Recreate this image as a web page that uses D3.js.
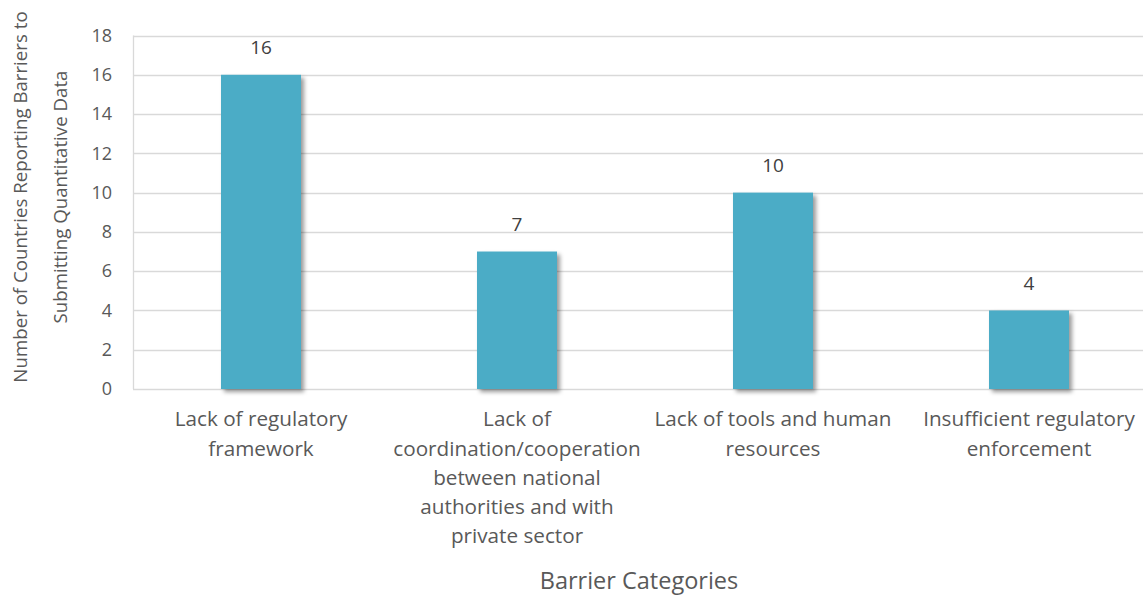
<!DOCTYPE html>
<html>
<head>
<meta charset="utf-8">
<script src="https://cdn.jsdelivr.net/npm/d3@7"></script>
<style>
  html, body { margin: 0; padding: 0; background: #fff; }
  svg { display: block; font-family: "Open Sans", sans-serif; }
</style>
</head>
<body>
<svg id="chart" width="1143" height="596"></svg>
<script>
// Barrier categories and number of countries reporting each
const categories = [
  "Lack of regulatory framework",
  "Lack of coordination/cooperation between national authorities and with private sector",
  "Lack of tools and human resources",
  "Insufficient regulatory enforcement"
];
const categoryLines = [
  ["Lack of regulatory", "framework"],
  ["Lack of", "coordination/cooperation", "between national", "authorities and with", "private sector"],
  ["Lack of tools and human", "resources"],
  ["Insufficient regulatory", "enforcement"]
];
const counts = [16, 7, 10, 4];
const yTicks = [0, 2, 4, 6, 8, 10, 12, 14, 16, 18];
const yTitleLines = ["Number of Countries Reporting Barriers to", "Submitting Quantitative Data"];
const xTitle = "Barrier Categories";

const svg = d3.select("#chart");
const plotLeft = 133, plotRight = 1157, plotTop = 35.5, plotBottom = 389;
const textColor = "#595959";

const x = d3.scaleBand().domain(categories).range([plotLeft, plotRight])
  .paddingInner(0.6875).paddingOuter(0.34375);
const y = d3.scaleLinear().domain([0, 18]).range([plotBottom, plotTop]);

// drop shadow for the bars
const defs = svg.append("defs");
const f = defs.append("filter").attr("id", "shadow")
  .attr("x", "-20%").attr("y", "-20%").attr("width", "150%").attr("height", "150%");
f.append("feDropShadow").attr("dx", 3).attr("dy", 3).attr("stdDeviation", 2)
  .attr("flood-color", "#000").attr("flood-opacity", 0.4);

// gridlines
svg.append("g").selectAll("line").data(yTicks).join("line")
  .attr("x1", plotLeft).attr("x2", 1143)
  .attr("y1", d => Math.round(y(d)) + 0.5).attr("y2", d => Math.round(y(d)) + 0.5)
  .attr("stroke", "#d9d9d9").attr("stroke-width", 1.3);

// y axis line
svg.append("line").attr("x1", plotLeft + 0.5).attr("x2", plotLeft + 0.5)
  .attr("y1", y(18)).attr("y2", y(0))
  .attr("stroke", "#d9d9d9").attr("stroke-width", 1.3);

// y tick labels
svg.append("g").selectAll("text").data(yTicks).join("text")
  .attr("x", 112).attr("y", d => y(d)).attr("dy", "0.35em")
  .attr("text-anchor", "end").attr("fill", textColor).attr("font-size", 18)
  .text(d => d);

// bars
svg.append("g").selectAll("rect").data(counts).join("rect")
  .attr("x", (d, i) => x(categories[i]))
  .attr("width", x.bandwidth())
  .attr("y", d => y(d))
  .attr("height", d => y(0) - y(d))
  .attr("fill", "#4bacc6")
  .attr("filter", "url(#shadow)");

// value labels
svg.append("g").selectAll("text").data(counts).join("text")
  .attr("x", (d, i) => x(categories[i]) + x.bandwidth() / 2)
  .attr("y", d => y(d) - 27).attr("dy", "0.35em")
  .attr("text-anchor", "middle").attr("fill", "#404040").attr("font-size", 19)
  .text(d => d);

// category labels
const cat = svg.append("g").selectAll("text").data(categories).join("text")
  .attr("text-anchor", "middle").attr("fill", textColor).attr("font-size", 20.7)
  .attr("transform", d => `translate(${x(d) + x.bandwidth() / 2},419)`);
cat.each(function(d, i) {
  d3.select(this).selectAll("tspan").data(categoryLines[i]).join("tspan")
    .attr("x", 0).attr("y", (l, j) => j * 29.3).attr("dy", "0.35em").text(l => l);
});

// axis titles
svg.append("text").attr("x", 639).attr("y", 581).attr("dy", "0.35em")
  .attr("text-anchor", "middle").attr("fill", textColor).attr("font-size", 23.5)
  .text(xTitle);

svg.append("g").attr("transform", "translate(20,197) rotate(-90)")
  .selectAll("text").data(yTitleLines).join("text")
  .attr("x", 0).attr("y", (d, i) => i * 40).attr("dy", "0.35em")
  .attr("text-anchor", "middle").attr("fill", textColor).attr("font-size", 18.7)
  .text(d => d);
</script>
</body>
</html>
